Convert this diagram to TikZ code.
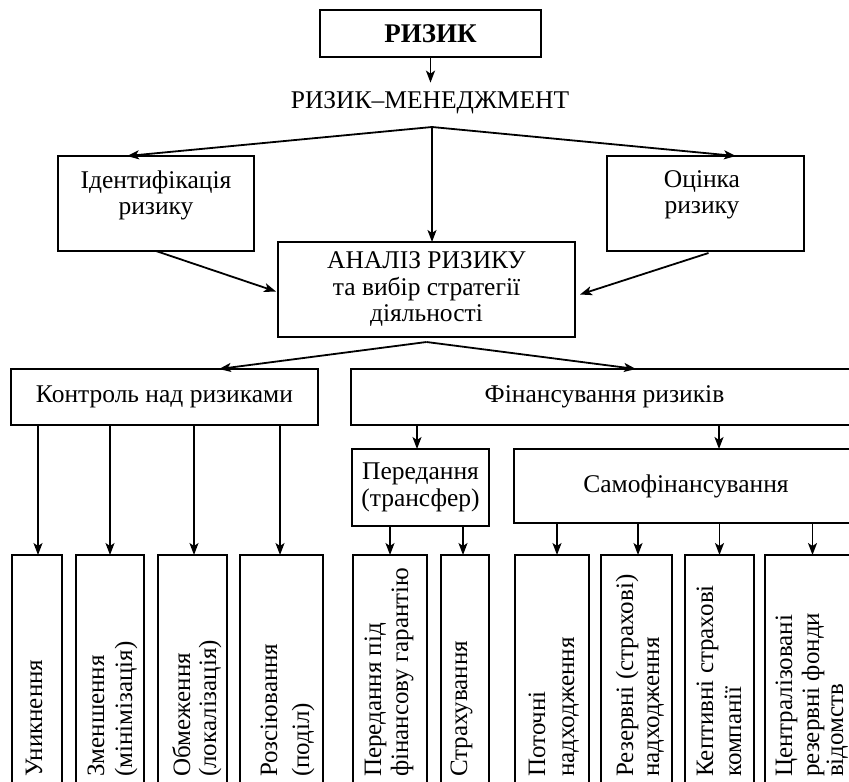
\documentclass[tikz,border=0pt]{standalone}
\usepackage{fontspec}
\setmainfont{Liberation Serif}
\usetikzlibrary{arrows.meta}
\begin{document}
\begin{tikzpicture}[x=1pt,y=-1pt,
  box/.style={draw, line width=1.8pt, inner sep=0pt, outer sep=0pt, align=center,
    font=\fontsize{25.5}{26.5}\selectfont},
  lbl/.style={inner sep=0pt, align=center, font=\fontsize{25.5}{26}\selectfont},
  vlbl/.style={inner sep=0pt, rotate=90, anchor=base west, font=\fontsize{25}{27}\selectfont},
  arr/.style={line width=1.8pt, -{Stealth[length=12pt,width=9pt,inset=3pt]}},
]
\useasboundingbox (0,0) rectangle (849,782);
\begin{scope}
\clip (0,0) rectangle (849,782);
\fill[white] (0,0) rectangle (849,782);
% top
\node[box, minimum width=221pt, minimum height=47pt, font=\fontsize{27}{28}\selectfont\bfseries] (riz) at (430.5,33.5) {РИЗИК};
\node[lbl] (rm) at (430,103) {РИЗИК–МЕНЕДЖМЕНТ};
\coordinate (rmtop) at ([yshift=9pt]rm.north);
\draw[arr] (riz.south) -- (riz.south |- rmtop);
\coordinate (br1) at (432,127);

\node[box, minimum width=196pt, minimum height=95pt] (ident) at (156,203.5) {};
\node[lbl] (identT) at (156,195) {Ідентифікація\\ризику};
\node[box, minimum width=197pt, minimum height=95pt] (ocin) at (705.5,203.5) {};
\node[lbl] (ocinT) at (702,195) {Оцінка\\ризику};
\node[box, minimum width=297pt, minimum height=95pt] (anal) at (426.5,289.5)
  {АНАЛІЗ РИЗИКУ\\та вибір стратегії\\діяльності};

\draw[arr] (br1) -- ([xshift=-29pt]ident.north);
\draw[arr] (br1) -- ([xshift=30.5pt]ocin.north);
\draw[arr] (br1) -- (br1 |- anal.north);
\draw[arr] (ident.south) -- ([xshift=-2pt,yshift=-2pt]anal.west);
\draw[arr] ([xshift=3pt,yshift=-2pt]ocin.south) -- ([xshift=5pt,yshift=-5pt]anal.east);

% second level
\coordinate (br2) at ([yshift=-5pt]anal.south);
\node[box, minimum width=307pt, minimum height=56pt] (kontr) at (164.5,397) {Контроль над ризиками};
\node[box, minimum width=507pt, minimum height=56pt] (fin) at (604.5,397) {Фінансування ризиків};
\draw[arr] (br2) -- ([xshift=54.5pt]kontr.north);
\draw[arr] (br2) -- ([xshift=31.5pt]fin.north);

\node[box, minimum width=137pt, minimum height=77pt] (pered) at (420.5,487.5) {Передання\\(трансфер)};
\node[box, minimum width=344pt, minimum height=74pt] (samo) at (686,486) {Самофінансування};
\coordinate (xp) at (417,0);
\coordinate (xs) at (719,0);
\draw[arr] (fin.south -| xp) -- (pered.north -| xp);
\draw[arr] (fin.south -| xs) -- (samo.north -| xs);

% bottom boxes
\node[box, minimum width=50pt, minimum height=245pt] (b1) at (37,677.5) {};
\node[box, minimum width=68pt, minimum height=245pt] (b2) at (110,677.5) {};
\node[box, minimum width=69pt, minimum height=245pt] (b3) at (192.5,677.5) {};
\node[box, minimum width=83pt, minimum height=245pt] (b4) at (281.5,677.5) {};
\node[box, minimum width=74pt, minimum height=245pt] (b5) at (390,677.5) {};
\node[box, minimum width=48pt, minimum height=245pt] (b6) at (465,677.5) {};
\node[box, minimum width=74pt, minimum height=245pt] (b7) at (552,677.5) {};
\node[box, minimum width=71pt, minimum height=245pt] (b8) at (636.5,677.5) {};
\node[box, minimum width=69pt, minimum height=245pt] (b9) at (719.5,677.5) {};
\node[box, minimum width=105pt, minimum height=245pt] (b10) at (817.5,677.5) {};

\coordinate (a1) at ([xshift=1pt]b1.north);
\coordinate (a3) at ([xshift=1.5pt]b3.north);
\coordinate (a4) at ([xshift=-1.5pt]b4.north);
\coordinate (a6) at ([xshift=-2pt]b6.north);
\coordinate (a7) at ([xshift=5pt]b7.north);
\coordinate (a8) at ([xshift=1.5pt]b8.north);
\coordinate (a10) at ([xshift=-5pt]b10.north);
\draw[arr] (kontr.south -| a1) -- (a1);
\draw[arr] (kontr.south -| b2.north) -- (b2.north);
\draw[arr] (kontr.south -| a3) -- (a3);
\draw[arr] (kontr.south -| a4) -- (a4);
\draw[arr] (pered.south -| b5.north) -- (b5.north);
\draw[arr] (pered.south -| a6) -- (a6);
\draw[arr] (samo.south -| a7) -- (a7);
\draw[arr] (samo.south -| a8) -- (a8);
\draw[arr] (samo.south -| b9.north) -- (b9.north);
\draw[arr] (samo.south -| a10) -- (a10);

% rotated labels
\node[vlbl] (t1) at (42,777) {Уникнення};
\node[vlbl] (t2a) at (104,777) {Зменшення};
\node[vlbl] (t2b) at (132,777) {(мінімізація)};
\node[vlbl] (t3a) at (190,777) {Обмеження};
\node[vlbl] (t3b) at (216,777) {(локалізація)};
\node[vlbl] (t4a) at (277,777) {Розсіювання};
\node[vlbl] (t4b) at (309,777) {(поділ)};
\node[vlbl] (t5a) at (381,777) {Передання під};
\node[vlbl] (t5b) at (408,777) {фінансову гарантію};
\node[vlbl] (t6) at (467,777) {Страхування};
\node[vlbl] (t7a) at (545,777) {Поточні};
\node[vlbl] (t7b) at (574,777) {надходження};
\node[vlbl] (t8a) at (633,777) {Резервні (страхові)};
\node[vlbl] (t8b) at (659,777) {надходження};
\node[vlbl] (t9a) at (713,777) {Кептивні страхові};
\node[vlbl] (t9b) at (741,777) {компанії};
\node[vlbl] (t10a) at (792,777) {Централізовані};
\node[vlbl] (t10b) at (819,777) {резервні фонди};
\node[vlbl] (t10c) at (843,777) {відомств};
\end{scope}
\end{tikzpicture}
\end{document}
